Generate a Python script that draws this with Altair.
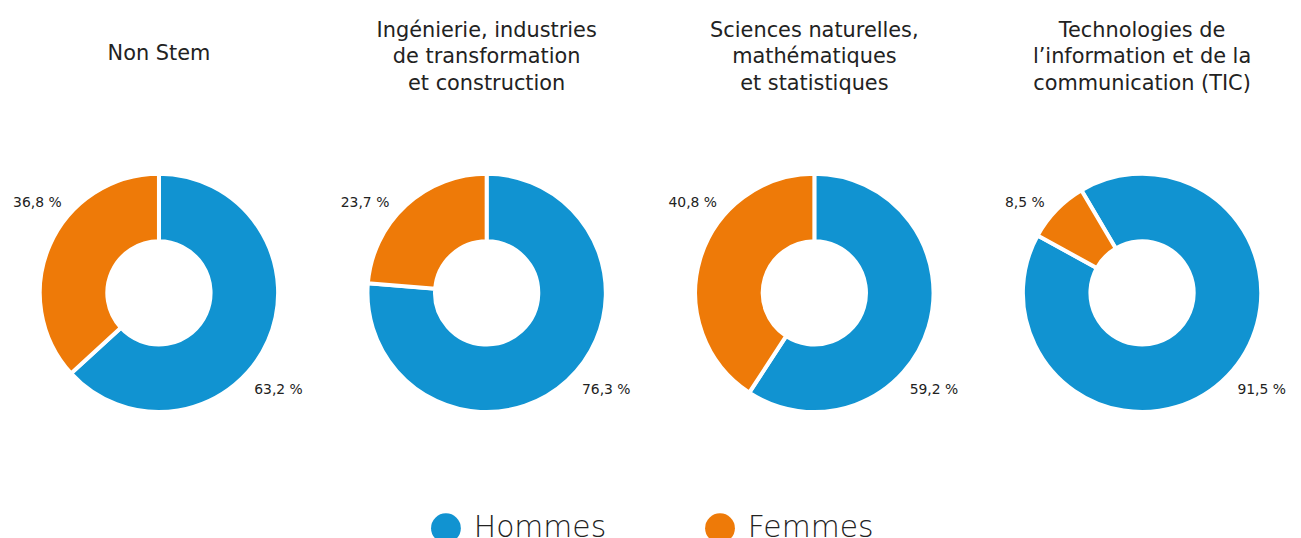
import altair as alt
import pandas as pd
import math

domaines = [
    "Non Stem",
    "Ingénierie, industries de transformation et construction",
    "Sciences naturelles, mathématiques et statistiques",
    "Technologies de l’information et de la communication (TIC)",
]
titres = [
    ["Non Stem"],
    ["Ingénierie, industries", "de transformation", "et construction"],
    ["Sciences naturelles,", "mathématiques", "et statistiques"],
    ["Technologies de", "l’information et de la", "communication (TIC)"],
]
hommes = [63.2, 76.3, 59.2, 91.5]
femmes = [36.8, 23.7, 40.8, 8.5]
# start angle of each donut, in degrees clockwise from 12 o'clock
depart = [0, 0, 0, -30.6]
genres = ["Hommes", "Femmes"]
couleurs = ["#1193D1", "#EE7A08"]

rows = []
for d, h, f in zip(domaines, hommes, femmes):
    rows.append({"domaine": d, "genre": "Hommes", "ordre": 0, "pct": h,
                 "label": f"{h:.1f}".replace(".", ",") + " %"})
    rows.append({"domaine": d, "genre": "Femmes", "ordre": 1, "pct": f,
                 "label": f"{f:.1f}".replace(".", ",") + " %"})
df = pd.DataFrame(rows)

FONT = "DejaVu Sans"
TXT = "#222222"


def panel(i):
    base = alt.Chart(df).transform_filter(alt.datum.domaine == domaines[i])
    a0 = math.radians(depart[i])
    arc = base.mark_arc(innerRadius=52, outerRadius=120, stroke="white", strokeWidth=4).encode(
        theta=alt.Theta("pct:Q", stack=True, scale=alt.Scale(range=[a0, a0 + 2 * math.pi])),
        color=alt.Color("genre:N", scale=alt.Scale(domain=genres, range=couleurs),
                        legend=alt.Legend(title=None, orient="none", legendX=426, legendY=394,
                                          direction="horizontal")),
        order=alt.Order("ordre:Q"),
    )
    lab_h = base.transform_filter(alt.datum.genre == "Hommes").mark_text(
        align="left", baseline="middle", dx=96, dy=98, fontSize=14, font=FONT, color=TXT
    ).encode(text="label:N")
    lab_f = base.transform_filter(alt.datum.genre == "Femmes").mark_text(
        align="right", baseline="middle", dx=-98, dy=-90, fontSize=14, font=FONT, color=TXT
    ).encode(text="label:N")
    off = 59 if len(titres[i]) == 1 else 28
    return alt.layer(arc, lab_h, lab_f).properties(
        width=304, height=344,
        title=alt.TitleParams(text=titres[i], fontSize=21, font=FONT, fontWeight="normal",
                              color=TXT, lineHeight=27, anchor="middle", offset=off),
    )


chart = alt.hconcat(*[panel(i) for i in range(4)], spacing=26).properties(
    padding={"left": 0, "top": 10, "right": 0, "bottom": 0}
).resolve_scale(color="shared").configure_view(stroke=None).configure_legend(
    symbolType="circle", symbolSize=900, symbolStrokeWidth=0,
    labelFontSize=30, labelFont=FONT, labelFontWeight=200, labelColor=TXT,
    labelOffset=13, columnPadding=99,
)

chart.save("out.html", embed_options={"renderer": "svg", "actions": False})
